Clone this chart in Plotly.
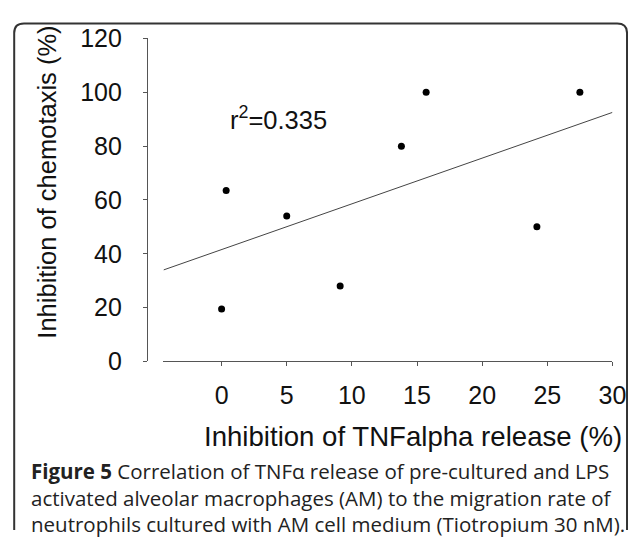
import numpy as np
import plotly.graph_objects as go

# data
tnf_inhibition = [0.0, 0.35, 5.0, 9.1, 13.8, 15.7, 24.2, 27.5]
chemotaxis_inhibition = [19.5, 63.5, 54.0, 28.0, 80.0, 100.0, 50.0, 100.0]
x_ticks = [0, 5, 10, 15, 20, 25, 30]
y_ticks = [0, 20, 40, 60, 80, 100, 120]
x_range = [-4.46, 30]
y_range = [0, 120]
r2_label = "r<sup>2</sup>=0.335"

W, H = 634, 536

# the photographed page is slightly rescaled; these map target pixels to paper fractions
SX, SY, OX, OY = 0.978, 0.948, 7.8, 22.5


def px(x):
    return (x - OX) / SX / W


def py(y):
    return 1 - (y - OY) / SY / H


# linear regression line across the x axis
slope, intercept = np.polyfit(tnf_inhibition, chemotaxis_inhibition, 1)
fit_x = np.array(x_range)
fit_y = slope * fit_x + intercept

arial = "Liberation Sans, Arial"
tick_font = dict(family=arial, size=25, color="#111")

fig = go.Figure()
fig.add_trace(go.Scatter(
    x=fit_x, y=fit_y, mode="lines",
    line=dict(color="#444", width=1),
    hoverinfo="skip", showlegend=False
))
fig.add_trace(go.Scatter(
    x=tnf_inhibition, y=chemotaxis_inhibition, mode="markers",
    marker=dict(color="black", size=7),
    showlegend=False
))

fig.update_layout(
    width=W, height=H,
    margin=dict(l=0, r=0, t=0, b=0),
    paper_bgcolor="white", plot_bgcolor="white",
    xaxis=dict(
        domain=[px(163.3), px(612.3)],
        range=x_range, tickvals=x_ticks,
        showline=True, linecolor="#555", linewidth=1,
        ticks="outside", ticklen=4, tickcolor="#555",
        showgrid=False, zeroline=False,
        tickfont=tick_font, ticklabelstandoff=8,
    ),
    yaxis=dict(
        domain=[py(362), py(39)],
        range=y_range, tickvals=y_ticks,
        anchor="free", position=px(146.7),
        showline=True, linecolor="#555", linewidth=1,
        ticks="outside", ticklen=4, tickcolor="#555",
        showgrid=False, zeroline=False,
        tickfont=tick_font, ticklabelstandoff=16,
    ),
)

# axis titles
fig.add_annotation(
    text="Inhibition of chemotaxis (%)", textangle=-90,
    x=px(47), y=py(183), xref="paper", yref="paper",
    xanchor="center", yanchor="middle",
    showarrow=False, font=dict(family=arial, size=25.5, color="#111")
)
fig.add_annotation(
    text="Inhibition of TNFalpha release (%)",
    x=px(624), y=py(437), xref="paper", yref="paper",
    xanchor="right", yanchor="middle",
    showarrow=False, font=dict(family=arial, size=27.6, color="#111")
)

# r squared label
fig.add_annotation(
    text=r2_label, x=0.5, y=90.3, xref="x", yref="y",
    xanchor="left", yanchor="middle", showarrow=False,
    font=dict(family=arial, size=25.5, color="#111")
)

# caption
fig.add_annotation(
    text=("<b>Figure 5</b> Correlation of TNF\u03b1 release of pre-cultured and LPS<br>"
          "activated alveolar macrophages (AM) to the migration rate of<br>"
          "neutrophils cultured with AM cell medium (Tiotropium 30 nM)."),
    x=px(29), y=py(498), xref="paper", yref="paper",
    xanchor="left", yanchor="middle", align="left", showarrow=False,
    font=dict(family="Open Sans", size=20.5, color="#222")
)

# rounded frame around the figure (kept inside the paper)
x0, x1 = px(14), 1 - 1 / W
top, bottom = 1 - 1.5 / H, 0
rx, ry = 10 / W, 10 / H
frame = (f"M {x0},{bottom} L {x0},{top - ry} Q {x0},{top} {x0 + rx},{top} "
         f"L {x1 - rx},{top} Q {x1},{top} {x1},{top - ry} L {x1},{bottom}")
fig.add_shape(type="path", path=frame, xref="paper", yref="paper",
              line=dict(color="#333", width=2))

fig.write_html("out.html")
